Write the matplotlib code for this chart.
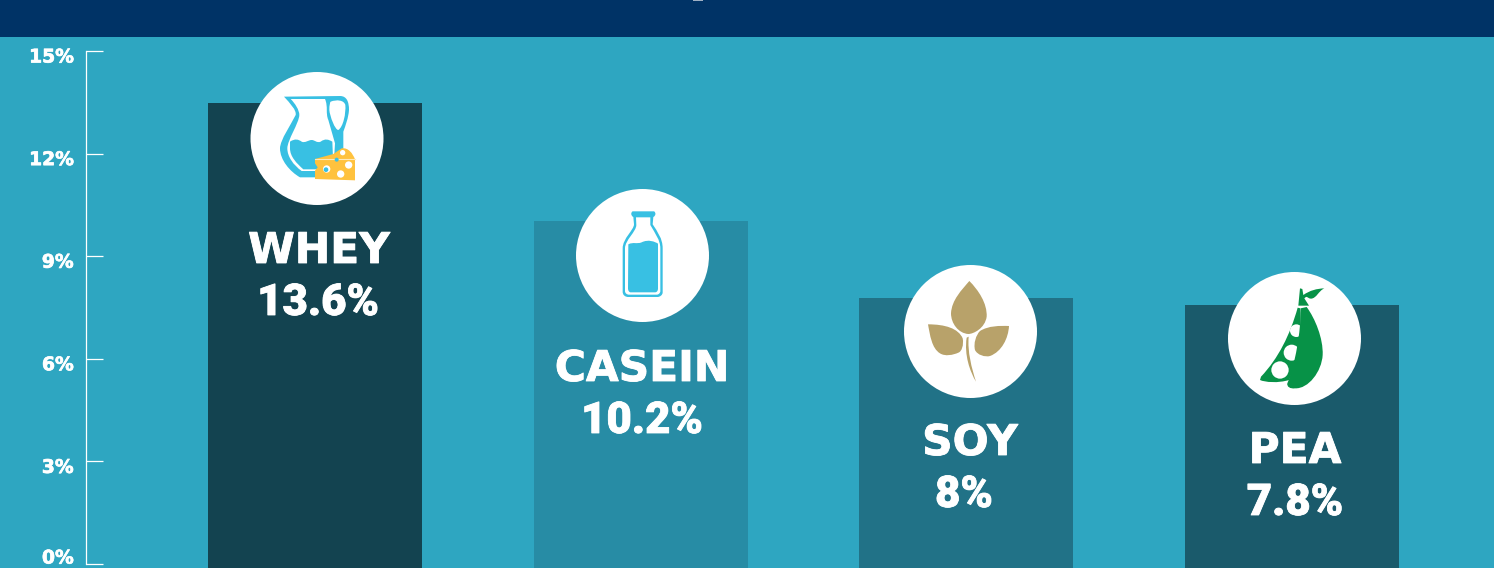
# -*- coding: utf-8 -*-
import matplotlib
matplotlib.use('Agg')
import matplotlib.pyplot as plt
import matplotlib.patheffects as pe
from matplotlib.path import Path
from matplotlib.patches import PathPatch, Circle, Rectangle

categorias = ['WHEY', 'CASEIN', 'SOY', 'PEA']
rotulos = ['13.6%', '10.2%', '8%', '7.8%']
alturas = [13.48, 10.03, 7.78, 7.57]
yticks = [0, 3, 6, 9, 12, 15]
yticklabels = ['0%', '3%', '6%', '9%', '12%', '15%']

corFundo = '#2EA6C1'
corTopo = '#003366'
coresBarras = ['#134350', '#278CA5', '#217287', '#1A5A6B']
AZUL = '#38C0E3'
QUEIJO = '#FFC23E'
SOJA = '#B8A26A'
VERDE = '#079247'

W, H = 1494, 568
fig = plt.figure(figsize=(W / 100, H / 100), dpi=100, facecolor=corFundo)

# eixo de dados: 0% em y=564px, 15% em y=51px, barras a cada 325.67px
ax = fig.add_axes([0, 0, 1, 1], facecolor=corFundo)
escY = (564 - 51) / 15
ax.set_ylim((564 - H) / escY, 564 / escY)
escX = 325.67
ax.set_xlim(-315 / escX, (W - 315) / escX)
base = (564 - H) / escY
ax.bar(range(4), [a - base for a in alturas], bottom=base, width=214 / escX, color=coresBarras, zorder=2)

for s in ['top', 'right', 'bottom']:
    ax.spines[s].set_visible(False)
xEixo = (85.7 - 315) / escX
ax.spines['left'].set_position(('data', xEixo))
ax.spines['left'].set_bounds(0, 15)
ax.spines['left'].set_color('white')
ax.spines['left'].set_linewidth(0.9)
ax.set_xticks([])
ax.set_yticks(yticks)
ax.set_yticklabels([])
ax.tick_params(axis='y', direction='in', length=12.2, width=0.9, color='white')

engrossarTick = [pe.withStroke(linewidth=0.5, foreground='white')]
for v, lb in zip(yticks, yticklabels):
    dy = 6 if v == 0 else -6
    ax.annotate(lb, (xEixo, v), xytext=(-12, dy), textcoords='offset pixels',
                ha='right', va='center', color='white', fontsize=13.5,
                family='DejaVu Sans', weight='bold', path_effects=engrossarTick)

# camada em pixels para faixa, icones e textos
ov = fig.add_axes([0, 0, 1, 1], facecolor='none')
ov.set_xlim(0, W)
ov.set_ylim(H, 0)
ov.axis('off')

ov.add_patch(Rectangle((0, 0), W, 37, color=corTopo, lw=0))
ov.add_patch(Rectangle((693, 0), 10, 1.2, color='#9FB0C4', lw=0))

for c in [(317, 138.5), (642.5, 255.5), (970.5, 331.5), (1294.5, 338.5)]:
    ov.add_patch(Circle(c, 66.5, color='white', lw=0, zorder=3))


def forma(x0, y0, inicio, segs, cor, z=4):
    # cada seg: 1 ponto = linha, 3 pontos = bezier; coordenadas do zoom 3x
    vs = [inicio]
    cs = [Path.MOVETO]
    for sg in segs:
        if len(sg) == 2:
            vs.append(sg)
            cs.append(Path.LINETO)
        else:
            vs += [(sg[0], sg[1]), (sg[2], sg[3]), (sg[4], sg[5])]
            cs += [Path.CURVE4] * 3
    vs.append(inicio)
    cs.append(Path.CLOSEPOLY)
    vs = [(x0 + a / 3, y0 + b / 3) for a, b in vs]
    ov.add_patch(PathPatch(Path(vs, cs), facecolor=cor, edgecolor='none', lw=0, zorder=z))


def bola(x0, y0, x, y, r, cor, z=5):
    ov.add_patch(Circle((x0 + x / 3, y0 + y / 3), r / 3, color=cor, lw=0, zorder=z))


# jarra
x0, y0 = 200, 60
forma(x0, y0, (252, 110), [(420, 108), (440, 108, 447, 125, 447, 150), (445, 175, 437, 195, 430, 215),
                           (430, 290), (400, 352), (300, 352), (270, 335, 240, 300, 240, 265),
                           (240, 240, 275, 190, 287, 165), (290, 150, 270, 130, 252, 110)], AZUL)
forma(x0, y0, (272, 117), [(375, 117), (385, 140, 376, 160, 385, 180), (405, 250), (402, 300), (385, 333),
                           (305, 333), (280, 315, 262, 290, 262, 265), (262, 240, 297, 190, 298, 165),
                           (298, 150, 285, 130, 272, 117)], 'white', 5)
forma(x0, y0, (392, 125), [(410, 118, 432, 120, 436, 135), (438, 160, 430, 200, 415, 210),
                           (405, 210, 390, 170, 388, 150), (388, 135, 390, 127, 392, 125)], 'white', 5)
forma(x0, y0, (270, 245), [(285, 235, 295, 238, 305, 245), (315, 250, 325, 240, 335, 240),
                           (345, 240, 350, 250, 362, 245), (375, 235, 385, 238, 397, 245),
                           (399, 295), (385, 328), (310, 328), (290, 310, 270, 290, 270, 265)], AZUL, 6)
# queijo
forma(x0, y0, (345, 297), [(400, 282), (425, 265), (445, 262, 458, 280, 465, 298), (465, 361), (345, 357),
                           (345, 332), (353, 322), (345, 310)], QUEIJO, 7)
ov.plot([200 + 345 / 3, 200 + 465 / 3], [60 + 298 / 3] * 2, color='#FFE9B8', lw=0.8, zorder=8)
bola(x0, y0, 446, 315, 11, 'white', 8)
bola(x0, y0, 422, 342, 11, 'white', 8)
bola(x0, y0, 380, 327, 11, 'white', 8)
bola(x0, y0, 378, 329, 7, AZUL, 9)
bola(x0, y0, 428, 278, 8, 'white', 8)
bola(x0, y0, 410, 299, 6, AZUL, 8)

# garrafa
x0, y0 = 570, 185
forma(x0, y0, (188, 79), [(252, 79), (258, 82, 258, 92, 250, 96), (248, 118), (262, 140, 278, 160, 278, 190),
                          (278, 322), (278, 330, 270, 336, 262, 336), (175, 336), (165, 336, 158, 330, 158, 320),
                          (158, 190), (158, 160, 192, 135, 192, 118), (190, 96), (182, 92, 182, 82, 188, 79)], AZUL)
forma(x0, y0, (198, 97), [(241, 97), (241, 120), (255, 145, 271, 165, 271, 190), (271, 318),
                          (271, 324, 266, 329, 260, 329), (177, 329), (170, 329, 165, 324, 165, 318), (165, 190),
                          (165, 165, 199, 140, 199, 120)], 'white', 5)
forma(x0, y0, (175, 178), [(190, 170, 200, 178, 215, 172), (235, 162, 255, 170, 264, 176), (264, 310),
                           (264, 318, 260, 322, 255, 322), (182, 322), (177, 322, 174, 316, 174, 310)], AZUL, 6)

# soja
x0, y0 = 890, 255
forma(x0, y0, (238, 78), [(265, 105, 292, 145, 290, 185), (285, 220, 250, 237, 235, 237),
                          (205, 235, 183, 205, 183, 175), (185, 135, 215, 105, 238, 78)], SOJA)
forma(x0, y0, (114, 208), [(165, 208, 205, 220, 218, 250), (222, 270, 215, 290, 205, 293),
                           (190, 300, 165, 305, 150, 295), (125, 280, 120, 240, 114, 208)], SOJA)
forma(x0, y0, (357, 213), [(355, 250, 335, 290, 300, 303), (285, 307, 262, 300, 255, 285),
                           (250, 265, 258, 240, 270, 228), (295, 212, 330, 212, 357, 213)], SOJA)
forma(x0, y0, (236, 245), [(232, 290, 245, 340, 258, 380), (240, 350, 222, 300, 230, 248)], SOJA)

# ervilha: as bolinhas ficam atras da vagem direita
x0, y0 = 1215, 265
forma(x0, y0, (248, 128), [(225, 210, 190, 280, 138, 335), (135, 345), (150, 352, 190, 355, 222, 345),
                           (245, 300, 262, 200, 256, 130)], VERDE, 4)
bola(x0, y0, 195, 315, 26, 'white', 5)
bola(x0, y0, 230, 263, 24, 'white', 5)
bola(x0, y0, 244, 197, 19, 'white', 5)
forma(x0, y0, (257, 130), [(275, 126), (300, 160, 325, 220, 323, 270), (320, 320, 280, 372, 240, 370),
                           (225, 372, 215, 365, 217, 355), (240, 300, 258, 200, 257, 130)], VERDE, 6)
forma(x0, y0, (250, 122), [(255, 70), (262, 72), (265, 90), (285, 76, 305, 71, 328, 70),
                           (310, 78, 305, 100, 288, 101), (275, 100, 278, 90, 268, 100), (282, 122)], VERDE, 6)

# textos
posNomes = [(319, 251), (642, 369), (970, 443), (1295, 451)]
posRotulos = [(318, 303), (642, 421), (964, 495), (1295, 503)]
engrossar = [pe.withStroke(linewidth=0.6, foreground='white')]
for nome, lb, pn, pr in zip(categorias, rotulos, posNomes, posRotulos):
    ov.text(pn[0], pn[1], nome, color='white', fontsize=30.5, weight='bold',
            family='DejaVu Sans', ha='center', va='center', zorder=10, path_effects=engrossar)
    ov.text(pr[0], pr[1], lb, color='white', fontsize=31.5, weight='black',
            family='Roboto', ha='center', va='center', zorder=10, path_effects=engrossar)

plt.savefig('out.png', dpi=100, facecolor=corFundo)
plt.close(fig)
